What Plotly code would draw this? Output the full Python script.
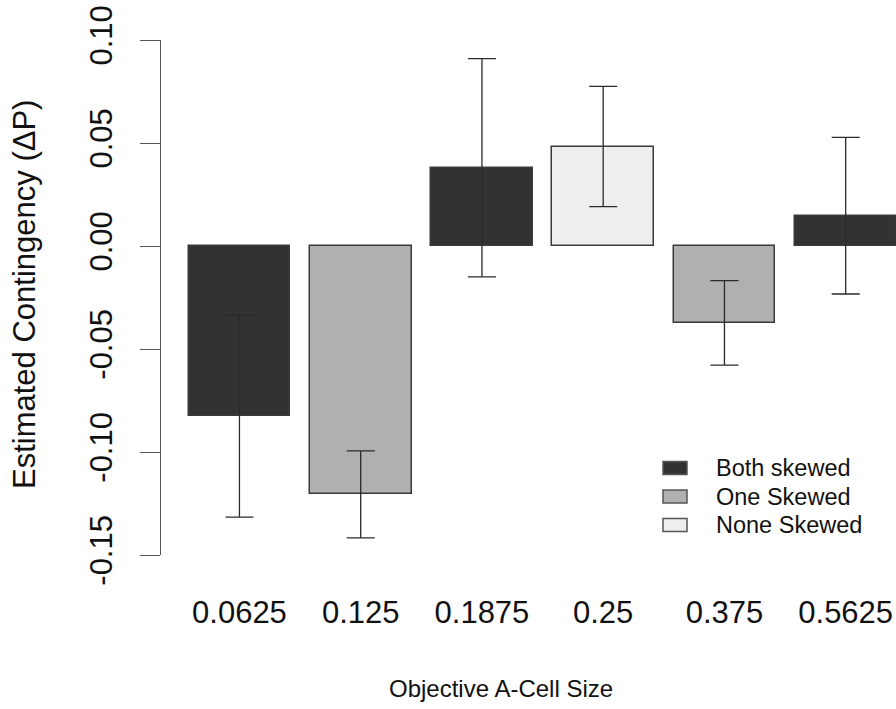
import plotly.graph_objects as go

# Objective A-cell sizes (x categories)
cell_sizes = ["0.0625", "0.125", "0.1875", "0.25", "0.375", "0.5625"]
# Skew condition of each bar
conditions = ["Both skewed", "One Skewed", "Both skewed", "None Skewed", "One Skewed", "Both skewed"]
# Mean estimated contingency (delta P) and error half-widths
mean_dp = [-0.0826, -0.1206, 0.0380, 0.0483, -0.0373, 0.0147]
err_dp = [0.0490, 0.0211, 0.0530, 0.0292, 0.0205, 0.0380]
# Y axis ticks
y_ticks = [-0.15, -0.10, -0.05, 0.00, 0.05, 0.10]
y_tick_text = ["-0.15", "-0.10", "-0.05", "0.00", "0.05", "0.10"]

legend_order = ["Both skewed", "One Skewed", "None Skewed"]
fill = {"Both skewed": "#323232", "One Skewed": "#b0b0b0", "None Skewed": "#eeeeee"}

FONT = "Liberation Sans, Arial, Helvetica, sans-serif"

W, H = 896, 709
L, R, T, B = 161, 0, 40, 154
PW, PH = W - L - R, H - T - B


def px_x(p):
    return (p - L) / PW


def px_y(p):
    return (H - B - p) / PH


fig = go.Figure()
fig.add_trace(go.Bar(
    x=cell_sizes,
    y=mean_dp,
    width=0.84,
    marker=dict(color=[fill[c] for c in conditions], line=dict(color="#3a3a3a", width=1.5)),
    error_y=dict(type="data", array=err_dp, visible=True, width=14, thickness=1.3, color="#2a2a2a"),
    showlegend=False,
))

# Legend drawn as swatches and labels
shapes, annotations = [], []
row_y = [468, 496.5, 525]
for name, cy in zip(legend_order, row_y):
    shapes.append(dict(
        type="rect", xref="paper", yref="paper",
        x0=px_x(663), x1=px_x(687), y0=px_y(cy + 6.5), y1=px_y(cy - 6.5),
        fillcolor=fill[name], line=dict(color="#555555", width=1.5),
    ))
    annotations.append(dict(
        text=name, xref="paper", yref="paper", x=px_x(714), y=px_y(cy),
        xanchor="left", yanchor="middle", showarrow=False,
        font=dict(family=FONT, size=23.5, color="#111111"),
    ))

# Axis titles
annotations.append(dict(
    text="Objective A-Cell Size", xref="paper", yref="paper",
    x=px_x(500.5), y=px_y(688), xanchor="center", yanchor="middle", showarrow=False,
    font=dict(family=FONT, size=24, color="#111111"),
))
annotations.append(dict(
    text="Estimated Contingency (ΔP)", xref="paper", yref="paper",
    x=px_x(24), y=px_y(295), xanchor="center", yanchor="middle", showarrow=False,
    textangle=-90, font=dict(family=FONT, size=31, color="#111111"),
))

fig.update_layout(
    width=W, height=H,
    margin=dict(l=L, r=R, t=T, b=B, pad=0),
    paper_bgcolor="white", plot_bgcolor="white",
    font=dict(family=FONT, color="#111111"),
    shapes=shapes, annotations=annotations,
    bargap=0,
)
fig.update_xaxes(
    type="category", range=[-0.647, 5.415],
    showline=False, showgrid=False, zeroline=False, ticks="",
    tickfont=dict(family=FONT, size=31, color="#111111"),
    ticklabelstandoff=36,
)
fig.update_yaxes(
    range=[-0.15, 0.10],
    tickvals=y_ticks, ticktext=y_tick_text,
    showline=True, linecolor="#555555", linewidth=1.2,
    ticks="outside", ticklen=20, tickcolor="#555555", tickwidth=1.2,
    tickangle=-90, tickfont=dict(family=FONT, size=31, color="#111111"),
    ticklabelstandoff=16,
    showgrid=False, zeroline=False,
)

fig.write_html("out.html")
